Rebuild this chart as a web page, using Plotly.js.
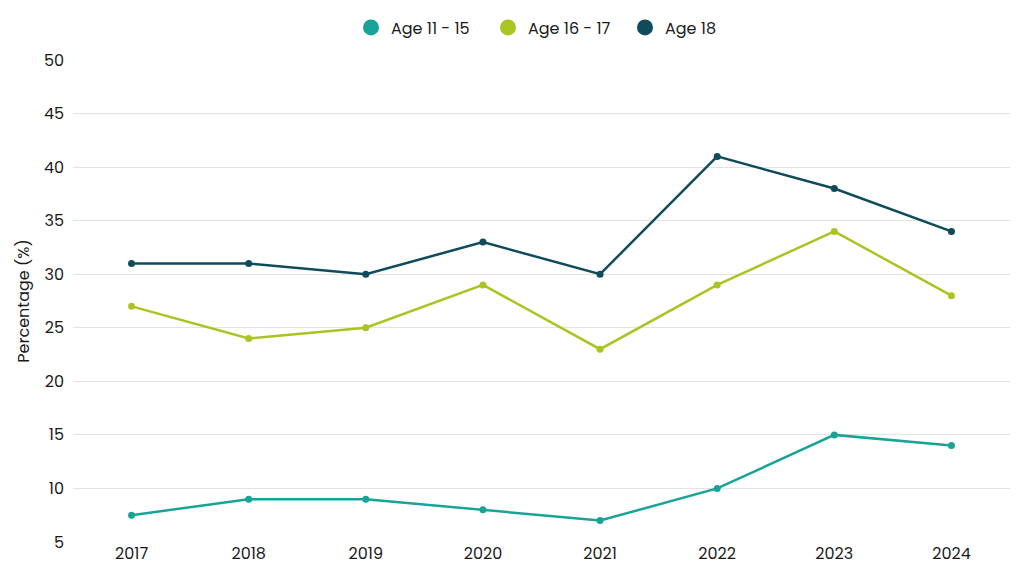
<!DOCTYPE html>
<html>
<head>
<meta charset="utf-8">
<script src="https://cdn.plot.ly/plotly-3.0.1.min.js"></script>
<style>html,body{margin:0;padding:0;background:#fff;}#chart{width:1024px;height:576px;}</style>
</head>
<body>
<div id="chart"></div>
<script>
const years = ['2017','2018','2019','2020','2021','2022','2023','2024'];
const seriesNames = ['Age 11 - 15', 'Age 16 - 17', 'Age 18'];
const age11to15 = [7.5, 9, 9, 8, 7, 10, 15, 14];
const age16to17 = [27, 24, 25, 29, 23, 29, 34, 28];
const age18 = [31, 31, 30, 33, 30, 41, 38, 34];
const colors = ['#17a497', '#a8c523', '#0f4b5a'];
const values = [age11to15, age16to17, age18];

const font = "Poppins, 'Open Sans', sans-serif";
const traces = [];
values.forEach((v, i) => {
  traces.push({
    x: years, y: v, type: 'scatter', mode: 'lines+markers',
    name: seriesNames[i], showlegend: false,
    line: {color: colors[i], width: 2.5},
    marker: {color: colors[i], size: 7}
  });
});
values.forEach((v, i) => {
  traces.push({
    x: [null], y: [null], type: 'scatter', mode: 'markers',
    name: seriesNames[i], showlegend: true,
    marker: {color: colors[i], size: 16}
  });
});

const layout = {
  width: 1024, height: 576,
  margin: {l: 73, r: 14, t: 59, b: 34},
  paper_bgcolor: '#fff', plot_bgcolor: '#fff',
  font: {family: font, size: 16, color: '#1a1a1a'},
  showlegend: true,
  legend: {orientation: 'h', x: 0.516, xanchor: 'center', y: 1.03, yanchor: 'bottom',
           font: {family: font, size: 16, color: '#1a1a1a'}, itemwidth: 30, traceorder: 'normal',
           entrywidth: 92, entrywidthmode: 'pixels'},
  xaxis: {type: 'category', range: [-0.5, 7.5], showgrid: false, zeroline: false, showline: false,
          ticks: '', tickfont: {size: 16}, fixedrange: true},
  yaxis: {range: [5, 50], tickvals: [5,10,15,20,25,30,35,40,45,50], showgrid: true, gridcolor: '#e3e3e3',
          gridwidth: 1, zeroline: false, showline: false, ticks: '', ticklabelstandoff: 8,
          tickfont: {size: 16},
          title: {text: 'Percentage (%)', font: {size: 16}, standoff: 10}}
};
Plotly.newPlot('chart', traces, layout, {displayModeBar: false, staticPlot: true});
</script>
</body>
</html>
